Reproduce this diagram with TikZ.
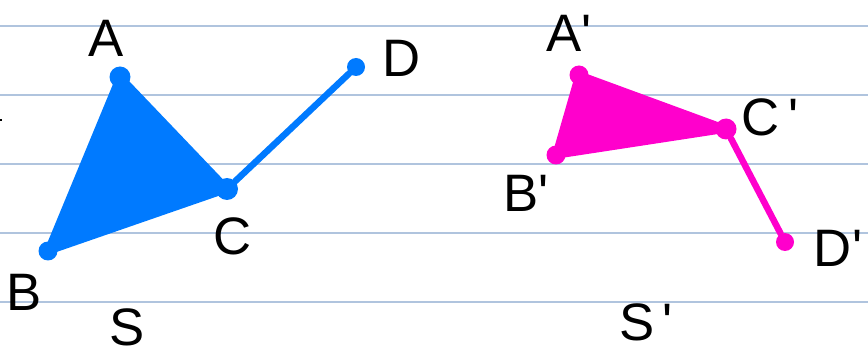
\documentclass[tikz,border=0pt]{standalone}
\usepackage{fontspec}
\setmainfont{Liberation Sans}[Ligatures=TeXOff]
\usetikzlibrary{positioning}
\definecolor{penblue}{RGB}{0,122,255}
\definecolor{penpink}{RGB}{255,0,204}
\definecolor{ruling}{RGB}{176,196,222}
\definecolor{ink}{RGB}{0,0,0}
\tikzset{
  vertex/.style={
    circle,
    fill,
    inner sep=0pt,
    minimum size=0.38cm
  },
  edge/.style={line width=0.15cm, line cap=round, line join=round},
  stroke/.style={line width=0.13cm, line cap=round},
  lbl/.style={
    font=\fontsize{30}{32}\selectfont,
    text=ink,
    inner sep=0pt
  },
  rule/.style={draw=ruling, line width=0.9pt}
}

\begin{document}
\begin{tikzpicture}[x=0.02cm,y=-0.02cm]
    \useasboundingbox (0,0) rectangle (868,354);
    % ruled paper
    \draw[rule] (0,26) -- (868,26);
    \draw[rule] (0,95) -- (868,95);
    \draw[rule] (0,164) -- (868,164);
    \draw[rule] (0,233) -- (868,233);
    \draw[rule] (0,302) -- (868,302);
    \draw[ink, line width=1.2pt] (0,120) -- (2,120);

    % shape S
    \node[vertex, penblue, minimum size=0.42cm] (A) at (120,77) {};
    \node[vertex, penblue] (B) at (48,251) {};
    \node[vertex, penblue, minimum size=0.44cm] (C) at (227,189) {};
    \node[vertex, penblue, minimum size=0.36cm] (D) at (356,67) {};
    \filldraw[edge, penblue] (A.center) -- (B.center) -- (C.center) -- cycle;
    \draw[stroke, penblue] (C) -- (D);

    \node[lbl] (labA) at (106,38) {A};
    \node[lbl] (labB) at (24,292) {B};
    \node[lbl] (labC) at (233,236) {C};
    \node[lbl] (labD) at (402,58) {D};
    \node[lbl] (labS) at (127,327) {S};

    % shape S'
    \node[vertex, penpink] (A') at (579,75) {};
    \node[vertex, penpink] (B') at (556,155) {};
    \node[vertex, penpink, minimum size=0.42cm] (C') at (726,129) {};
    \node[vertex, penpink, minimum size=0.36cm] (D') at (785,242) {};
    \filldraw[edge, penpink] (A'.center) -- (B'.center) -- (C'.center) -- cycle;
    \draw[stroke, penpink] (C') -- (D');

    \node[lbl] (labA') at (569,33) {A'};
    \node[lbl] (labB') at (526,193) {B'};
    \node[lbl] (labC') at (770,117) {C\,'};
    \node[lbl] (labD') at (838,248) {D'};
    \node[lbl] (labS') at (646,322) {S\,'};
\end{tikzpicture}
\end{document}
